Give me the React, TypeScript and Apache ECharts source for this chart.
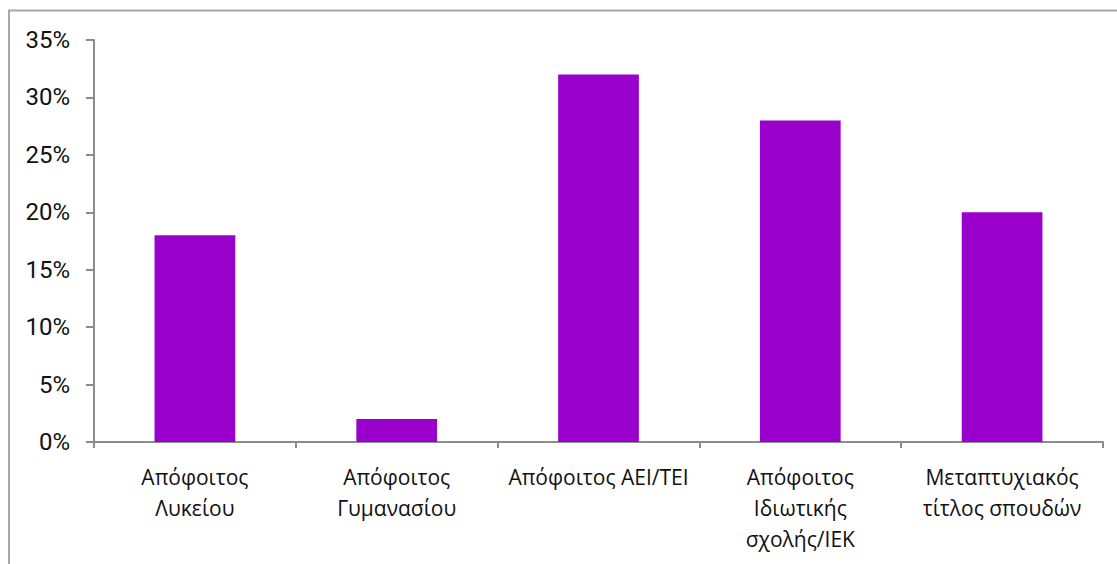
import React, { useEffect, useRef } from "react";
import * as echarts from "echarts";

const categories = [
  "Απόφοιτος\nΛυκείου",
  "Απόφοιτος\nΓυμανασίου",
  "Απόφοιτος ΑΕΙ/ΤΕΙ",
  "Απόφοιτος\nΙδιωτικής\nσχολής/ΙΕΚ",
  "Μεταπτυχιακός\nτίτλος σπουδών",
];
const shares = [18, 2, 32, 28, 20];
const yMin = 0;
const yMax = 35;
const yStep = 5;

export default function App() {
  const ref = useRef<HTMLDivElement>(null);

  useEffect(() => {
    if (!ref.current) return;
    const chart = echarts.init(ref.current, null, { renderer: "svg" });
    chart.setOption({
      animation: false,
      backgroundColor: "#ffffff",
      grid: { left: 94, right: 14, top: 40, bottom: 122, containLabel: false },
      graphic: [
        {
          type: "rect",
          shape: { x: 9, y: 10.5, width: 1200, height: 600 },
          style: { fill: "none", stroke: "#a6a6a6", lineWidth: 2 },
          silent: true,
        },
      ],
      xAxis: {
        type: "category",
        data: categories,
        boundaryGap: true,
        axisLine: { lineStyle: { color: "#8c8c8c", width: 2 } },
        axisTick: { show: true, alignWithLabel: false, interval: 0, length: 6, lineStyle: { color: "#8c8c8c", width: 2 } },
        axisLabel: {
          interval: 0,
          margin: 19,
          color: "#111111",
          fontFamily: "Open Sans",
          fontSize: 21,
          lineHeight: 31,
        },
      },
      yAxis: {
        type: "value",
        min: yMin,
        max: yMax,
        interval: yStep,
        axisLine: { show: true, lineStyle: { color: "#8c8c8c", width: 2 } },
        axisTick: { show: true, length: 8, lineStyle: { color: "#8c8c8c", width: 2 } },
        splitLine: { show: false },
        axisLabel: {
          formatter: "{value}%",
          margin: 24,
          color: "#111111",
          fontFamily: "Roboto",
          fontSize: 24,
        },
      },
      series: [
        {
          type: "bar",
          data: shares,
          barWidth: "40%",
          itemStyle: { color: "#9900cc" },
        },
      ],
    });
    return () => chart.dispose();
  }, []);

  return (
    <div
      ref={ref}
      style={{ position: "fixed", left: 0, top: 0, width: 1117, height: 564 }}
    />
  );
}
